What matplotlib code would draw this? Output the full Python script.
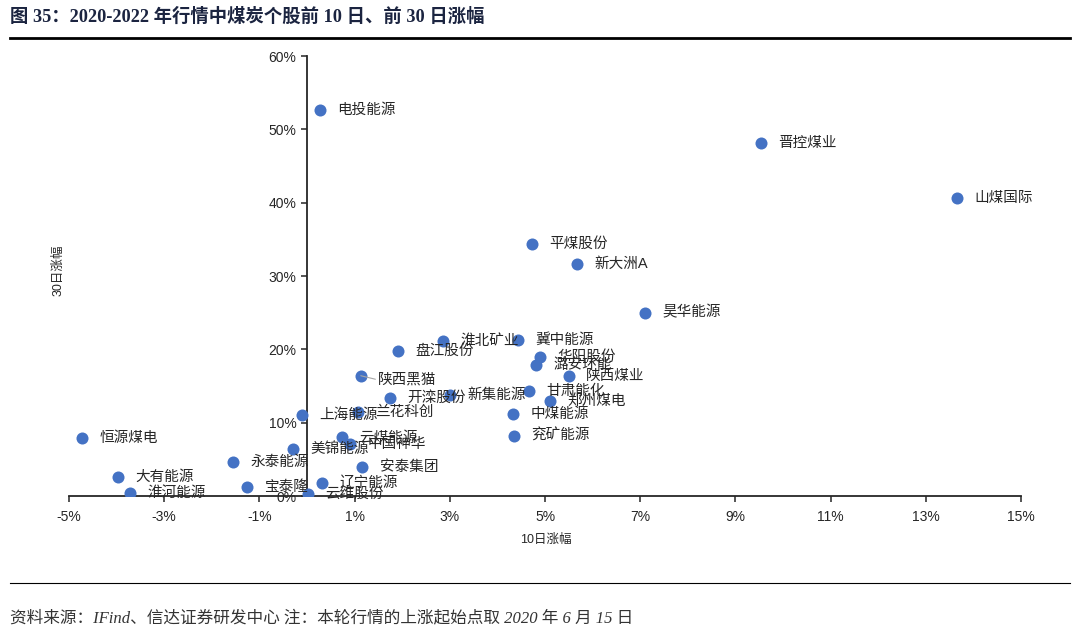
import matplotlib.pyplot as plt
from matplotlib.ticker import FuncFormatter, MultipleLocator

plt.rcParams['font.family'] = ['Liberation Sans', 'Noto Sans CJK SC', 'DejaVu Sans']

## Data: 10-day and 30-day gains (%) per coal stock
names = ['电投能源', '晋控煤业', '山煤国际', '平煤股份', '新大洲A', '昊华能源',
         '淮北矿业', '冀中能源', '盘江股份', '华阳股份', '潞安环能', '陕西煤业',
         '陕西黑猫', '甘肃能化', '开滦股份', '新集能源', '郑州煤电', '上海能源',
         '兰花科创', '中煤能源', '兖矿能源', '恒源煤电', '云煤能源', '中国神华',
         '美锦能源', '永泰能源', '安泰集团', '大有能源', '辽宁能源', '宝泰隆',
         '淮河能源', '云维股份']
gain_10d = [0.27, 9.54, 13.66, 4.73, 5.67, 7.10,
            2.86, 4.43, 1.91, 4.89, 4.81, 5.50,
            1.13, 4.66, 1.74, 3.00, 5.10, -0.11,
            1.07, 4.33, 4.35, -4.73, 0.74, 0.90,
            -0.29, -1.55, 1.16, -3.97, 0.32, -1.26,
            -3.72, 0.02]
gain_30d = [52.7, 48.2, 40.7, 34.4, 31.6, 25.0,
            21.1, 21.3, 19.8, 19.0, 17.9, 16.4,
            16.4, 14.3, 13.4, 13.8, 13.0, 11.0,
            11.5, 11.2, 8.2, 7.9, 8.0, 7.1,
            6.4, 4.6, 4.0, 2.6, 1.8, 1.2,
            0.4, 0.3]

x_ticks = [-5, -3, -1, 1, 3, 5, 7, 9, 11, 13, 15]

fig = plt.figure(figsize=(10.8, 6.32), dpi=100)
ax = fig.add_axes([69/1080, 1-496/632, (1021-69)/1080, 440/632])

ax.scatter(gain_10d, gain_30d, s=75, color='#4472C4', zorder=3, linewidths=0)

# labels to the right of each dot
for name, x, y in zip(names, gain_10d, gain_30d):
    if name == '陕西黑猫':
        ax.annotate(name, (x, y), xytext=(12.5, -3), textcoords='offset points',
                    ha='left', va='center', fontsize=10.5, color='#262626',
                    arrowprops=dict(arrowstyle='-', color='#a6a6a6', lw=0.8,
                                    shrinkA=0, shrinkB=0, relpos=(0, 0.5)))
    else:
        ax.annotate(name, (x, y), xytext=(12.5, 0), textcoords='offset points',
                    ha='left', va='center', fontsize=10.5, color='#262626')

ax.set_xlim(-5, 15)
ax.set_ylim(0, 60)
ax.set_xticks(x_ticks)
ax.yaxis.set_major_locator(MultipleLocator(10))
ax.xaxis.set_major_formatter(FuncFormatter(lambda v, p: f'{v:.0f}%'))
ax.yaxis.set_major_formatter(FuncFormatter(lambda v, p: f'{v:.0f}%'))

ax.spines['left'].set_position(('data', 0))
ax.spines['right'].set_visible(False)
ax.spines['top'].set_visible(False)
for s in ['left', 'bottom']:
    ax.spines[s].set_color('#262626')
    ax.spines[s].set_linewidth(1.3)
ax.tick_params(axis='both', direction='out', length=4, width=1.1,
               color='#262626', labelsize=10, labelcolor='#262626')
ax.tick_params(axis='x', pad=6)

fig.text(546/1080, 1-540/632, '10日涨幅', ha='center', va='center',
         fontsize=9, color='#262626')
fig.text(58/1080, 1-270/632, '30日涨幅', ha='center', va='center',
         fontsize=9, color='#262626', rotation=90)

# header and footer
fig.text(10/1080, 1-17/632, '图 35：2020-2022 年行情中煤炭个股前 10 日、前 30 日涨幅',
         ha='left', va='center', fontsize=13.2, fontweight='bold', color='#1b2440',
         family=['Liberation Serif', 'Noto Sans CJK SC'])
fig.add_artist(plt.Line2D([10/1080, 1070/1080], [1-38/632, 1-38/632],
                          color='black', lw=2))
fig.add_artist(plt.Line2D([10/1080, 1070/1080], [1-583/632, 1-583/632],
                          color='black', lw=0.8))
fig.text(10/1080, 1-618/632,
         '资料来源：IFind、信达证券研发中心 注：本轮行情的上涨起始点取 2020 年 6 月 15 日',
         ha='left', va='center', fontsize=12, style='italic', color='#333333',
         family=['Liberation Serif', 'Noto Sans CJK SC'])

fig.savefig('out.png', dpi=100)
